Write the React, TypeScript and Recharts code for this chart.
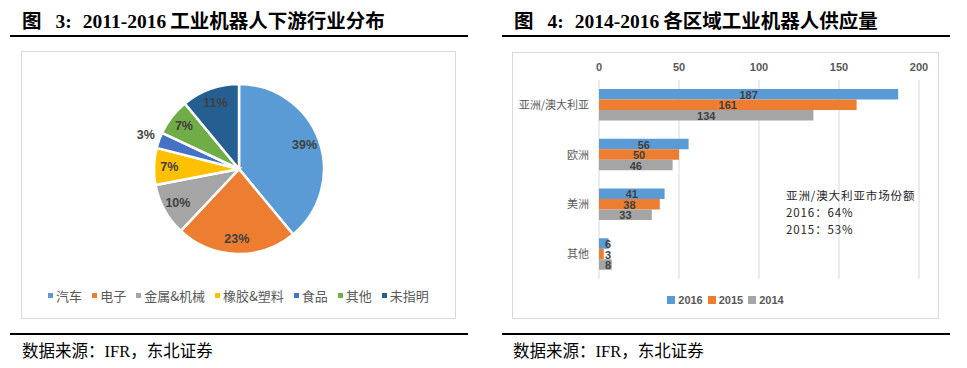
import React from 'react';
import { PieChart, Pie, Cell, BarChart, Bar, XAxis, YAxis, CartesianGrid, Legend, LabelList } from 'recharts';

const pieNames = ['汽车', '电子', '金属&机械', '橡胶&塑料', '食品', '其他', '未指明'];
const pieValues = [39, 23, 10, 7, 3, 7, 11];
const pieColors = ['#5B9BD5', '#ED7D31', '#A5A5A5', '#FFC000', '#4472C4', '#70AD47', '#255E91'];

const regions = ['亚洲/澳大利亚', '欧洲', '美洲', '其他'];
const v2016 = [187, 56, 41, 6];
const v2015 = [161, 50, 38, 3];
const v2014 = [134, 46, 33, 8];
const barYears = ['2016', '2015', '2014'];
const barColors = ['#5B9BD5', '#ED7D31', '#A5A5A5'];
const xTicks = [0, 50, 100, 150, 200];

const noteLines = ['亚洲/澳大利亚市场份额', '2016：64%', '2015：53%'];

const pieData = pieNames.map((n, i) => ({ name: n, value: pieValues[i] }));
const barData = regions.map((r, i) => ({ name: r, y2016: v2016[i], y2015: v2015[i], y2014: v2014[i] }));

const RAD = Math.PI / 180;
const LATIN = '"Liberation Sans", "Noto Sans CJK SC", sans-serif';
const CJK = '"Noto Sans CJK SC", "Liberation Sans", sans-serif';
const SERIF = '"Liberation Serif", "Noto Sans CJK SC", serif';

const pieLabel = (p: any) => {
  const { cx, cy, midAngle, outerRadius, value } = p;
  const r = value <= 3 ? outerRadius + 14 : outerRadius * 0.82;
  const x = cx + r * Math.cos(-midAngle * RAD);
  const y = cy + r * Math.sin(-midAngle * RAD);
  return (
    <text x={x} y={y} textAnchor="middle" dominantBaseline="central" fill="#404040" fontSize={12.5} fontWeight="bold" fontFamily={LATIN}>
      {value}%
    </text>
  );
};

const barLabel = (p: any) => {
  const { x, y, width, height, value } = p;
  const cx = Math.max(x + width / 2, x + 9);
  return (
    <text x={cx} y={y + height / 2 + 0.5} textAnchor="middle" dominantBaseline="central" fill="#404040" fontSize={11} fontWeight="bold" fontFamily={LATIN}>
      {value}
    </text>
  );
};

const PieLegend = () => (
  <div style={{ display: 'flex', justifyContent: 'center', alignItems: 'center', fontFamily: CJK, fontSize: 13, color: '#595959', whiteSpace: 'nowrap' }}>
    {pieNames.map((n, i) => (
      <span key={n} style={{ display: 'inline-flex', alignItems: 'center', marginRight: i < pieNames.length - 1 ? 10 : 0 }}>
        <span style={{ width: 5, height: 5, background: pieColors[i], display: 'inline-block', marginRight: 3 }} />
        {n}
      </span>
    ))}
  </div>
);

const BarLegend = () => (
  <div style={{ display: 'flex', justifyContent: 'center', alignItems: 'center', fontFamily: LATIN, fontSize: 11, fontWeight: 'bold', color: '#595959', whiteSpace: 'nowrap' }}>
    {barYears.map((n, i) => (
      <span key={n} style={{ display: 'inline-flex', alignItems: 'center', marginRight: i < 2 ? 5 : 0 }}>
        <span style={{ width: 8, height: 8, background: barColors[i], display: 'inline-block', marginRight: 3 }} />
        {n}
      </span>
    ))}
  </div>
);

const Title = ({ left, num, years, text }: any) => (
  <div style={{ position: 'absolute', left, top: 9, fontFamily: SERIF, fontWeight: 'bold', fontSize: 19.5, color: '#000', whiteSpace: 'nowrap', lineHeight: '26px' }}>
    <span style={{ marginRight: 14 }}>图</span>
    <span style={{ marginRight: 11 }}>{num}:</span>
    <span style={{ marginRight: 4 }}>{years}</span>
    <span>{text}</span>
  </div>
);

const Footer = ({ left }: any) => (
  <div style={{ position: 'absolute', left, top: 341, fontFamily: SERIF, fontSize: 16.5, color: '#000', whiteSpace: 'nowrap', lineHeight: '22px' }}>
    数据来源：IFR，东北证券
  </div>
);

export default function App() {
  return (
    <div style={{ position: 'absolute', left: 0, top: 0, width: 967, height: 368, background: '#fff', overflow: 'hidden' }}>
      <Title left={22} num="3" years="2011-2016" text="工业机器人下游行业分布" />
      <Title left={514} num="4" years="2014-2016" text="各区域工业机器人供应量" />
      <div style={{ position: 'absolute', left: 10, top: 35, width: 458, height: 2, background: '#000' }} />
      <div style={{ position: 'absolute', left: 502, top: 35, width: 448, height: 2, background: '#000' }} />
      <div style={{ position: 'absolute', left: 10, top: 333, width: 458, height: 2, background: '#000' }} />
      <div style={{ position: 'absolute', left: 502, top: 333, width: 448, height: 2, background: '#000' }} />
      <Footer left={22} />
      <Footer left={513} />

      <div style={{ position: 'absolute', left: 21, top: 51, width: 433, height: 266, border: '1px solid #d9d9d9' }}>
        <PieChart width={433} height={266} margin={{ top: 0, right: 0, bottom: 0, left: 0 }}>
          <Pie data={pieData} dataKey="value" nameKey="name" cx={217} cy={117} outerRadius={85} startAngle={90} endAngle={-270}
            stroke="#fff" strokeWidth={2.5} label={pieLabel} labelLine={false} isAnimationActive={false}>
            {pieData.map((d, i) => <Cell key={d.name} fill={pieColors[i]} />)}
          </Pie>
          <Legend verticalAlign="middle" layout="horizontal" content={() => <PieLegend />} wrapperStyle={{ top: 234, left: 0, width: 433, height: 20 }} />
        </PieChart>
      </div>

      <div style={{ position: 'absolute', left: 512, top: 52, width: 425, height: 265, border: '1px solid #d9d9d9' }}>
        <BarChart width={425} height={265} data={barData} layout="vertical" margin={{ top: 0, right: 19, bottom: 39, left: 0 }} barGap={0} barSize={10.5}>
          <CartesianGrid horizontal={false} stroke="#d9d9d9" />
          <XAxis type="number" orientation="top" domain={[0, 200]} ticks={xTicks} height={27} axisLine={false} tickLine={false} tickSize={0} tickMargin={9}
            tick={{ fill: '#595959', fontSize: 11, fontWeight: 'bold', fontFamily: LATIN }} interval={0} />
          <YAxis type="category" dataKey="name" width={86} axisLine={false} tickLine={false} tickSize={0} tickMargin={10}
            tick={{ fill: '#595959', fontSize: 11, fontFamily: CJK }} interval={0} />
          <Bar dataKey="y2016" name="2016" fill={barColors[0]} isAnimationActive={false}>
            <LabelList dataKey="y2016" content={barLabel} />
          </Bar>
          <Bar dataKey="y2015" name="2015" fill={barColors[1]} isAnimationActive={false}>
            <LabelList dataKey="y2015" content={barLabel} />
          </Bar>
          <Bar dataKey="y2014" name="2014" fill={barColors[2]} isAnimationActive={false}>
            <LabelList dataKey="y2014" content={barLabel} />
          </Bar>
          <Legend verticalAlign="middle" layout="horizontal" content={() => <BarLegend />} wrapperStyle={{ top: 241, left: 0, width: 425, height: 18 }} />
        </BarChart>
        <div style={{ position: 'absolute', left: 273, top: 134, fontFamily: CJK, fontSize: 11.5, letterSpacing: 0.9, color: '#262626', lineHeight: '17px', whiteSpace: 'nowrap' }}>
          {noteLines.map((l) => <div key={l} style={{ height: 17 }}>{l}</div>)}
        </div>
      </div>
    </div>
  );
}
